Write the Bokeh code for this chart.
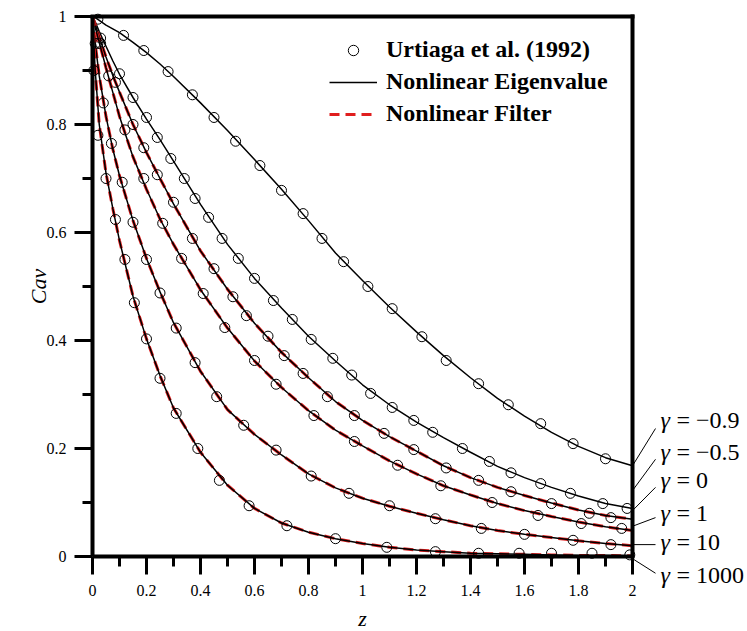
import math
from bokeh.plotting import figure
from bokeh.models import Range1d, FixedTicker, Label, Legend, LegendItem
from bokeh.embed import file_html
from bokeh.resources import INLINE

# ---------------- data ----------------
gamma_labels = ["\u22120.9", "\u22120.5", "0", "1", "10", "1000"]

z_line = [0, 0.01, 0.025, 0.05, 0.075, 0.1, 0.15, 0.2, 0.25, 0.3, 0.4, 0.5, 0.6, 0.7,
          0.8, 0.9, 1.0, 1.1, 1.2, 1.3, 1.4, 1.5, 1.6, 1.7, 1.8, 1.9, 2.0]

c_m09 = [1.0, 0.998, 0.993, 0.984, 0.977, 0.970, 0.952, 0.933, 0.912, 0.889, 0.840, 0.789, 0.735,
         0.680, 0.622, 0.562, 0.511, 0.462, 0.416, 0.372, 0.331, 0.293, 0.260, 0.230, 0.204, 0.183, 0.168]
c_m05 = [1.0, 0.990, 0.972, 0.945, 0.918, 0.893, 0.850, 0.810, 0.772, 0.732, 0.652, 0.578, 0.515,
         0.460, 0.408, 0.362, 0.318, 0.281, 0.249, 0.220, 0.193, 0.167, 0.146, 0.128, 0.112, 0.098, 0.089]
c_0 = [1.0, 0.985, 0.962, 0.925, 0.891, 0.860, 0.800, 0.748, 0.700, 0.653, 0.566, 0.495, 0.432,
       0.378, 0.331, 0.287, 0.252, 0.222, 0.195, 0.168, 0.146, 0.128, 0.113, 0.099, 0.086, 0.076, 0.069]
c_1 = [1.0, 0.980, 0.952, 0.905, 0.860, 0.815, 0.740, 0.680, 0.625, 0.578, 0.494, 0.423, 0.362,
       0.313, 0.270, 0.234, 0.205, 0.177, 0.153, 0.131, 0.114, 0.098, 0.085, 0.074, 0.064, 0.055, 0.048]
c_10 = [1.0, 0.950, 0.890, 0.815, 0.755, 0.705, 0.622, 0.552, 0.490, 0.433, 0.343, 0.272, 0.226,
        0.188, 0.153, 0.127, 0.108, 0.093, 0.080, 0.068, 0.057, 0.048, 0.041, 0.035, 0.029, 0.024, 0.020]
c_1000 = [1.0, 0.900, 0.800, 0.710, 0.645, 0.585, 0.482, 0.403, 0.335, 0.275, 0.193, 0.132, 0.089,
          0.062, 0.045, 0.033, 0.024, 0.017, 0.012, 0.009, 0.006, 0.005, 0.004, 0.003, 0.002, 0.002, 0.001]

# Urtiaga et al. (1992) points
zp_m09 = [0.02, 0.115, 0.19, 0.28, 0.37, 0.45, 0.53, 0.62, 0.70, 0.78, 0.85, 0.93, 1.02, 1.11,
          1.22, 1.31, 1.43, 1.54, 1.66, 1.78, 1.90]
cp_m09 = [0.995, 0.965, 0.937, 0.898, 0.855, 0.813, 0.769, 0.724, 0.678, 0.635, 0.589, 0.546, 0.500,
          0.459, 0.407, 0.363, 0.320, 0.281, 0.246, 0.209, 0.181]
zp_m05 = [0.03, 0.10, 0.15, 0.20, 0.24, 0.29, 0.34, 0.38, 0.43, 0.48, 0.54, 0.60, 0.67, 0.74, 0.81,
          0.89, 0.96, 1.03, 1.11, 1.19, 1.26, 1.37, 1.47, 1.55, 1.66, 1.77, 1.89, 1.98]
cp_m05 = [0.960, 0.894, 0.850, 0.813, 0.776, 0.737, 0.700, 0.663, 0.628, 0.589, 0.552, 0.515, 0.474,
          0.439, 0.402, 0.367, 0.336, 0.302, 0.276, 0.252, 0.230, 0.200, 0.176, 0.155, 0.135, 0.117,
          0.098, 0.089]
zp_0 = [0.03, 0.085, 0.15, 0.19, 0.24, 0.30, 0.37, 0.45, 0.52, 0.57, 0.65, 0.71, 0.78, 0.87, 0.97,
        1.08, 1.19, 1.31, 1.43, 1.55, 1.70, 1.84, 1.92]
cp_0 = [0.950, 0.878, 0.800, 0.757, 0.707, 0.656, 0.589, 0.533, 0.481, 0.446, 0.408, 0.372, 0.339,
        0.296, 0.261, 0.228, 0.198, 0.164, 0.141, 0.120, 0.098, 0.080, 0.072]
zp_1 = [0.02, 0.06, 0.12, 0.19, 0.26, 0.33, 0.41, 0.49, 0.60, 0.68, 0.82, 0.97, 1.13, 1.29, 1.48,
        1.65, 1.81, 1.96]
cp_1 = [0.950, 0.890, 0.790, 0.700, 0.617, 0.552, 0.487, 0.424, 0.363, 0.319, 0.261, 0.213, 0.169,
        0.131, 0.100, 0.076, 0.061, 0.052]
zp_10 = [0.01, 0.04, 0.07, 0.11, 0.15, 0.20, 0.25, 0.31, 0.38, 0.46, 0.56, 0.68, 0.81, 0.95, 1.10,
         1.27, 1.44, 1.60, 1.78, 1.92]
cp_10 = [0.950, 0.840, 0.765, 0.693, 0.619, 0.550, 0.488, 0.423, 0.359, 0.296, 0.243, 0.197, 0.149,
         0.117, 0.094, 0.070, 0.052, 0.041, 0.030, 0.022]
zp_1000 = [0.005, 0.02, 0.05, 0.085, 0.12, 0.155, 0.20, 0.25, 0.31, 0.39, 0.47, 0.58, 0.72, 0.90,
           1.09, 1.27, 1.43, 1.58, 1.70, 1.85, 1.99]
cp_1000 = [0.900, 0.780, 0.700, 0.624, 0.550, 0.470, 0.403, 0.330, 0.265, 0.200, 0.141, 0.094, 0.057,
           0.033, 0.017, 0.009, 0.006, 0.006, 0.006, 0.006, 0.003]

x_ticks = [0, 0.2, 0.4, 0.6, 0.8, 1.0, 1.2, 1.4, 1.6, 1.8, 2.0]
x_tick_labels = ["0", "0.2", "0.4", "0.6", "0.8", "1", "1.2", "1.4", "1.6", "1.8", "2"]
x_minor = [0.1, 0.3, 0.5, 0.7, 0.9, 1.1, 1.3, 1.5, 1.7, 1.9]
y_ticks = [0, 0.2, 0.4, 0.6, 0.8, 1.0]
y_tick_labels = ["0", "0.2", "0.4", "0.6", "0.8", "1"]
y_minor = [0.1, 0.3, 0.5, 0.7, 0.9]

# side-label placement (annotation layout)
label_y = [0.252, 0.194, 0.141, 0.081, 0.026, -0.035]
leader_start_y = [0.168, 0.122, 0.085, 0.056, 0.022, -0.004]
leader_end_y = [0.237, 0.180, 0.128, 0.072, 0.022, -0.031]

# ---------------- figure ----------------
FONT = "Liberation Serif"
RED = "#e01e1e"
X0, X1 = x_ticks[0], x_ticks[-1]
Y0, Y1 = y_ticks[0], y_ticks[-1]
PX = 270.0   # px per z unit
PY = 540.0   # px per Cav unit

p = figure(frame_width=747, frame_height=631, output_backend="svg", toolbar_location=None,
           x_range=Range1d(X0 - 92 / PX, X1 + 115 / PX),
           y_range=Range1d(Y0 - 75 / PY, Y1 + 16 / PY),
           min_border_left=0, min_border_right=0, min_border_top=0, min_border_bottom=0)
p.grid.visible = False
p.outline_line_color = None

curves = [
    (c_m09, zp_m09, cp_m09, False),
    (c_m05, zp_m05, cp_m05, False),
    (c_0, zp_0, cp_0, True),
    (c_1, zp_1, cp_1, True),
    (c_10, zp_10, cp_10, True),
    (c_1000, zp_1000, cp_1000, True),
]

r_circ = r_line = r_red = None
for c_vals, zp, cp, has_filter in curves:
    if has_filter:
        rr = p.line(z_line, c_vals, line_color=RED, line_width=3, line_dash="10 6")
        if r_red is None:
            r_red = rr
    rl = p.line(z_line, c_vals, line_color="black", line_width=1.5)
    rc = p.scatter(zp, cp, marker="circle", size=10, fill_color=None, line_color="black",
                   line_width=1)
    if r_line is None:
        r_line = rl
        r_circ = rc

# box: top and right borders
p.segment(x0=[X0, X1], y0=[Y1, Y0], x1=[X1, X1], y1=[Y1, Y1], line_color="black",
          line_width=4, line_cap="square")

for ax in (p.xaxis[0], p.yaxis[0]):
    ax.axis_line_width = 4
    ax.axis_line_color = "black"
    ax.major_tick_line_width = 3
    ax.minor_tick_line_width = 3
    ax.major_tick_in = 0
    ax.minor_tick_in = 0
    ax.major_tick_out = 18
    ax.minor_tick_out = 10
    ax.major_label_text_font = FONT
    ax.major_label_text_font_size = "16px"
    ax.major_label_text_color = "black"
    ax.axis_label_text_font = FONT
    ax.axis_label_text_font_style = "italic"
    ax.axis_label_text_font_size = "22px"
    ax.axis_label_text_color = "black"

p.xaxis.fixed_location = Y0
p.yaxis.fixed_location = X0
p.xaxis.bounds = (X0, X1)
p.yaxis.bounds = (Y0, Y1)
p.xaxis.ticker = FixedTicker(ticks=x_ticks, minor_ticks=x_minor)
p.yaxis.ticker = FixedTicker(ticks=y_ticks, minor_ticks=y_minor)
p.xaxis.major_label_overrides = {t: s for t, s in zip(x_ticks, x_tick_labels)}
p.yaxis.major_label_overrides = {t: s for t, s in zip(y_ticks, y_tick_labels)}
p.xaxis.major_label_standoff = 10
p.yaxis.major_label_standoff = 8
p.xaxis.axis_label = "z"
p.xaxis.axis_label_standoff = 7

# y axis title as a rotated label
p.add_layout(Label(x=X0 - 54 / PX, y=(Y0 + Y1) / 2, text="Cav", angle=math.pi / 2,
                   text_font=FONT, text_font_style="italic", text_font_size="22px",
                   text_align="center", text_baseline="middle", text_color="black"))

legend = Legend(items=[
    LegendItem(label="Urtiaga et al. (1992)", renderers=[r_circ]),
    LegendItem(label="Nonlinear Eigenvalue", renderers=[r_line]),
    LegendItem(label="Nonlinear Filter", renderers=[r_red]),
], location=(329, 504))
legend.label_text_font = FONT
legend.label_text_font_style = "bold"
legend.label_text_font_size = "24px"
legend.label_text_color = "black"
legend.glyph_width = 48
legend.glyph_height = 26
legend.label_height = 26
legend.label_standoff = 9
legend.spacing = 5
legend.padding = 11
legend.margin = 0
legend.border_line_color = None
legend.background_fill_alpha = 0
p.add_layout(legend)

# gamma labels with leader lines
n = len(leader_start_y)
p.segment(x0=[X1] * n, y0=leader_start_y, x1=[X1 + 23 / PX] * n, y1=leader_end_y,
          line_color="black", line_width=1)
for lab, ly in zip(gamma_labels, label_y):
    p.add_layout(Label(x=X1 + 28 / PX, y=ly, text="\u03b3", text_font=FONT,
                       text_font_style="italic", text_font_size="24px",
                       text_baseline="middle", text_color="black"))
    p.add_layout(Label(x=X1 + 28 / PX, y=ly, x_offset=16, text="= " + lab, text_font=FONT,
                       text_font_size="24px", text_baseline="middle", text_color="black"))

open("out.html", "w").write(file_html(p, INLINE))
